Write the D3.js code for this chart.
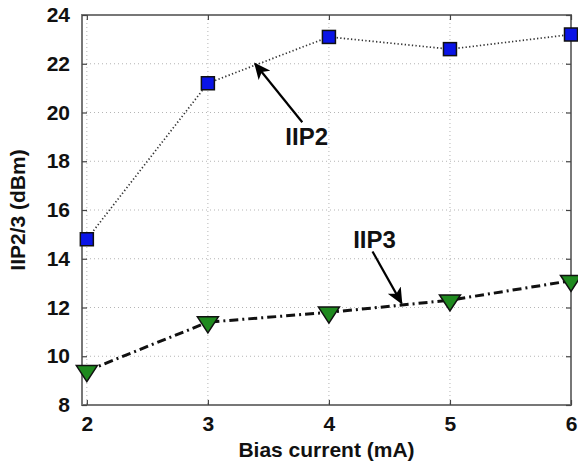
<!DOCTYPE html>
<html>
<head>
<meta charset="utf-8">
<script src="https://cdn.jsdelivr.net/npm/d3@7"></script>
<style>
  body { margin: 0; background: #fff; }
  svg { display: block; font-family: "Liberation Sans", Arial, sans-serif; font-weight: bold; }
</style>
</head>
<body>
<svg id="svg" width="578" height="465"></svg>
<script>
// data
const biasCurrent = [2, 3, 4, 5, 6];
const iip2 = [14.8, 21.2, 23.1, 22.6, 23.2];
const iip3 = [9.4, 11.4, 11.8, 12.3, 13.1];
const xTicks = [2, 3, 4, 5, 6];
const yTicks = [8, 10, 12, 14, 16, 18, 20, 22, 24];

// annotations in data units
const labels = [
    {text: 'IIP2', tip: [3.39, 22.0], tail: [3.78, 19.6], at: [3.64, 18.67]},
    {text: 'IIP3', tip: [4.6, 12.18], tail: [4.36, 14.3], at: [4.2, 14.44]}
];

const svg = d3.select('#svg');
const padding = {top: 15, right: 7, bottom: 60, left: 82};
const width = 578 - padding.left - padding.right;
const height = 465 - padding.top - padding.bottom;

const xScale = d3.scaleLinear().domain([1.96, 6]).range([0, width]);
const yScale = d3.scaleLinear().domain([8, 24]).range([height, 0]);

const g = svg.append('g')
    .attr('transform', 'translate(' + padding.left + ',' + padding.top + ')');

// dotted grid
g.append('g').selectAll('line').data(yTicks.slice(1, -1)).enter().append('line')
    .attr('x1', 0).attr('x2', width)
    .attr('y1', d => yScale(d)).attr('y2', d => yScale(d))
    .attr('stroke', '#b5b5b5').attr('stroke-width', 1).attr('stroke-dasharray', '1,3');
g.append('g').selectAll('line').data(xTicks).enter().append('line')
    .attr('x1', d => xScale(d)).attr('x2', d => xScale(d))
    .attr('y1', 0).attr('y2', height)
    .attr('stroke', '#b5b5b5').attr('stroke-width', 1).attr('stroke-dasharray', '1,3');

// frame
g.append('rect')
    .attr('x', 0).attr('y', 0).attr('width', width).attr('height', height)
    .attr('fill', 'none').attr('stroke', '#777').attr('stroke-width', 2);

// axes, ticks pointing inwards on all four sides
const xAxis = g.append('g').attr('transform', 'translate(0,' + height + ')')
    .call(d3.axisBottom(xScale).tickValues(xTicks).tickSize(-5).tickPadding(11).tickFormat(d3.format('d')));
const xTop = g.append('g')
    .call(d3.axisTop(xScale).tickValues(xTicks).tickSize(-5).tickFormat(''));
const yAxis = g.append('g')
    .call(d3.axisLeft(yScale).tickValues(yTicks).tickSize(-5).tickPadding(12).tickFormat(d3.format('d')));
const yRight = g.append('g').attr('transform', 'translate(' + width + ',0)')
    .call(d3.axisRight(yScale).tickValues(yTicks).tickSize(-5).tickFormat(''));

[xAxis, xTop, yAxis, yRight].forEach(a => {
    a.select('.domain').remove();
    a.selectAll('line').attr('stroke', '#444').attr('stroke-width', 1.2);
    a.selectAll('text').attr('font-size', 21).attr('font-weight', 'bold')
        .attr('font-family', '"Liberation Sans", Arial, sans-serif').attr('fill', '#111');
});

// lines
const line = d3.line().x(d => xScale(d[0])).y(d => yScale(d[1]));
const pts2 = biasCurrent.map((x, i) => [x, iip2[i]]);
const pts3 = biasCurrent.map((x, i) => [x, iip3[i]]);

g.append('path').datum(pts2).attr('d', line)
    .attr('fill', 'none').attr('stroke', '#333').attr('stroke-width', 1.7)
    .attr('stroke-dasharray', '1.3,2.3');
g.append('path').datum(pts3).attr('d', line)
    .attr('fill', 'none').attr('stroke', '#111').attr('stroke-width', 3)
    .attr('stroke-dasharray', '9,4,2,4');

// markers
g.selectAll('.sq').data(pts2).enter().append('rect')
    .attr('class', 'sq')
    .attr('x', d => xScale(d[0]) - 6.5).attr('y', d => yScale(d[1]) - 6.5)
    .attr('width', 13).attr('height', 13)
    .attr('fill', '#0a14e6').attr('stroke', '#111').attr('stroke-width', 1.5);

// downward triangle, centroid on the point
const tri = 'M-10.5,-5.3L10.5,-5.3L0,10.7Z';
g.selectAll('.tri').data(pts3).enter().append('path')
    .attr('class', 'tri')
    .attr('transform', d => 'translate(' + xScale(d[0]) + ',' + yScale(d[1]) + ')')
    .attr('d', tri)
    .attr('fill', '#1f8a1f').attr('stroke', '#111').attr('stroke-width', 1.5);

// arrows and labels
svg.append('defs').append('marker')
    .attr('id', 'head').attr('viewBox', '0 0 10 10')
    .attr('refX', 9).attr('refY', 5)
    .attr('markerWidth', 7.5).attr('markerHeight', 7.5)
    .attr('markerUnits', 'strokeWidth')
    .attr('orient', 'auto')
    .append('path').attr('d', 'M0,0.5L10,5L0,9.5L2.5,5Z').attr('fill', '#000');

labels.forEach(l => {
    g.append('line')
        .attr('x1', xScale(l.tail[0])).attr('y1', yScale(l.tail[1]))
        .attr('x2', xScale(l.tip[0])).attr('y2', yScale(l.tip[1]))
        .attr('stroke', '#000').attr('stroke-width', 2.2)
        .attr('marker-end', 'url(#head)');
    g.append('text')
        .attr('x', xScale(l.at[0])).attr('y', yScale(l.at[1]))
        .attr('font-size', 24).attr('fill', '#111')
        .text(l.text);
});

// axis titles
svg.append('text')
    .attr('x', padding.left + width / 2).attr('y', 457)
    .attr('text-anchor', 'middle').attr('font-size', 21).attr('fill', '#111')
    .text('Bias current (mA)');
svg.append('text')
    .attr('transform', 'translate(25,' + (padding.top + height / 2) + ') rotate(-90)')
    .attr('text-anchor', 'middle').attr('font-size', 21).attr('fill', '#111')
    .text('IIP2/3 (dBm)');
</script>
</body>
</html>
